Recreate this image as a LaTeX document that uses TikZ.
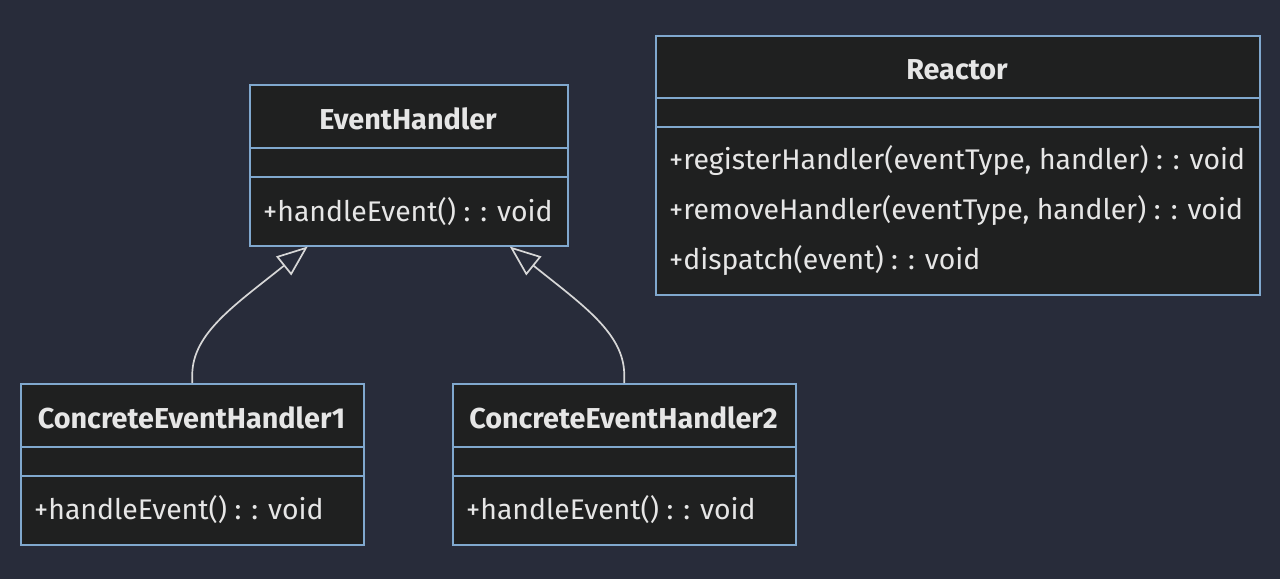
\documentclass[tikz,border=0pt]{standalone}
\usepackage{fontspec}
\setmainfont{Fira Sans}
\usetikzlibrary{arrows.meta,calc}
\definecolor{bg}{RGB}{40,44,58}
\definecolor{boxfill}{RGB}{31,32,32}
\definecolor{boxline}{RGB}{128,168,206}
\definecolor{txt}{RGB}{230,230,230}
\definecolor{arr}{RGB}{215,215,215}
\tikzset{
  classbox/.style={draw=boxline, fill=boxfill, line width=1.5pt, anchor=north west, inner sep=0pt},
  divider/.style={draw=boxline, line width=1.5pt},
  title/.style={text=txt, font=\fontsize{28.8}{32}\selectfont\bfseries, inner sep=0pt},
  member/.style={text=txt, font=\fontsize{28.4}{32}\selectfont, inner sep=0pt, anchor=west},
  inherit/.style={draw=arr, line width=1.7pt, -{Triangle[open, length=31pt, width=24pt]}},
}
\begin{document}
\begin{tikzpicture}[x=1pt,y=-1pt]
\fill[bg] (0,0) rectangle (1280,579);
\useasboundingbox (0,0) rectangle (1280,579);

% EventHandler
\node[classbox, minimum width=318pt, minimum height=161pt] (eh) at (249,84) {};
\draw[divider] (249,148) -- (567,148);
\draw[divider] (249,177) -- (567,177);
\node[title] (ehT) at (408,119) {EventHandler};
\node[member] (ehM) at (263,212) {+handleEvent() : : void};

% Reactor
\node[classbox, minimum width=604pt, minimum height=259pt] (re) at (655,35) {};
\draw[divider] (655,98) -- (1259,98);
\draw[divider] (655,127) -- (1259,127);
\node[title] (reT) at (957,70) {Reactor};
\node[member] (reM1) at (669,161) {+registerHandler(eventType, handler) : : void};
\node[member] (reM2) at (669,211) {+removeHandler(eventType, handler) : : void};
\node[member] (reM3) at (669,261) {+dispatch(event) : : void};

% ConcreteEventHandler1
\node[classbox, minimum width=343pt, minimum height=161pt] (c1) at (20,383) {};
\draw[divider] (20,447) -- (363,447);
\draw[divider] (20,476) -- (363,476);
\node[title] (c1T) at (191.5,418) {ConcreteEventHandler1};
\node[member] (c1M) at (34,510) {+handleEvent() : : void};

% ConcreteEventHandler2
\node[classbox, minimum width=343pt, minimum height=161pt] (c2) at (452,383) {};
\draw[divider] (452,447) -- (795,447);
\draw[divider] (452,476) -- (795,476);
\node[title] (c2T) at (623.5,418) {ConcreteEventHandler2};
\node[member] (c2M) at (466,510) {+handleEvent() : : void};

% inheritance arrows
\draw[inherit] (c1.north) -- ($(c1.north)+(0,-8)$) .. controls ($(c1.north)+(0,-50)$) and ($(eh.south)+(-173,58)$) .. ($(eh.south)+(-101,0)$);
\draw[inherit] (c2.north) -- ($(c2.north)+(0,-8)$) .. controls ($(c2.north)+(0,-50)$) and ($(eh.south)+(173,58)$) .. ($(eh.south)+(101,0)$);
\end{tikzpicture}
\end{document}
